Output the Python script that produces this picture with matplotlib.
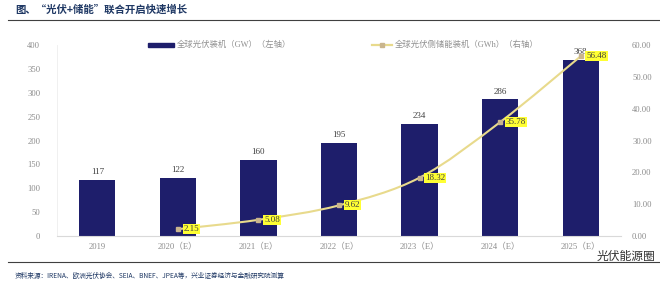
import matplotlib
matplotlib.use("Agg")
import matplotlib.pyplot as plt
import numpy as np
from matplotlib.path import Path
from matplotlib.patches import PathPatch

plt.rcParams['font.family'] = ['Liberation Serif', 'Noto Sans CJK SC', 'DejaVu Sans']

categories = ["2019", "2020（E）", "2021（E）", "2022（E）", "2023（E）", "2024（E）", "2025（E）"]
pv_gw = [117, 122, 160, 195, 234, 286, 368]
storage_idx = [1, 2, 3, 4, 5, 6]
storage_gwh = [2.15, 5.08, 9.62, 18.32, 35.78, 56.48]
left_ticks = [0, 50, 100, 150, 200, 250, 300, 350, 400]
right_ticks = [0, 10, 20, 30, 40, 50, 60]

bar_color = "#1e1e6b"
line_color = "#e8da8c"
tick_color = "#8c8c8c"

fig = plt.figure(figsize=(6.6, 2.86), dpi=100)
fig.patch.set_facecolor("white")

ax = fig.add_axes([57/660, 1-236/286, (621-57)/660, (236-45)/286])
x = np.arange(len(categories))
bars = ax.bar(x, pv_gw, width=0.45, color=bar_color, zorder=2)
ax.set_xlim(-0.5, len(categories)-0.5)
ax.set_ylim(0, 400)
ax.set_yticks(left_ticks)
ax.set_xticks(x)
ax.set_xticklabels(categories, fontsize=6.2, color=tick_color)
ax.tick_params(axis='y', labelsize=6.2, colors=tick_color, length=0, pad=12)
ax.tick_params(axis='x', length=0, pad=5)
for s in ['top', 'right']:
    ax.spines[s].set_visible(False)
ax.spines['left'].set_color("#eeeeee")
ax.spines['bottom'].set_color("#d9d9d9")
ax.spines['left'].set_linewidth(0.6)
ax.spines['bottom'].set_linewidth(0.8)
for xi, v in zip(x, pv_gw):
    ax.text(xi, v + 8, str(v), ha='center', va='bottom', fontsize=6.5, color="#404040")

ax2 = ax.twinx()
ax2.set_ylim(0, 60)
ax2.set_yticks(right_ticks)
ax2.set_yticklabels([f"{t:.2f}" for t in right_ticks])
ax2.tick_params(axis='y', labelsize=6.2, colors=tick_color, length=0, pad=8)
for s in ['top', 'right', 'left', 'bottom']:
    ax2.spines[s].set_visible(False)

# smooth line (Catmull-Rom as Bezier) through data points
px = np.array(storage_idx, dtype=float)
py = np.array(storage_gwh, dtype=float)
verts = [(px[0], py[0])]
codes = [Path.MOVETO]
n = len(px)
for i in range(n-1):
    p0 = (px[i-1], py[i-1]) if i > 0 else (px[i], py[i])
    p1 = (px[i], py[i])
    p2 = (px[i+1], py[i+1])
    p3 = (px[i+2], py[i+2]) if i+2 < n else (px[i+1], py[i+1])
    c1 = (p1[0] + (p2[0]-p0[0])/6, p1[1] + (p2[1]-p0[1])/6)
    c2 = (p2[0] - (p3[0]-p1[0])/6, p2[1] - (p3[1]-p1[1])/6)
    verts += [c1, c2, p2]
    codes += [Path.CURVE4]*3
ax2.add_patch(PathPatch(Path(verts, codes), facecolor='none', edgecolor=line_color, lw=1.5, zorder=3))
ax2.plot(px, py, linestyle='none', marker='s', markersize=3, color="#c9b58e", zorder=4)
for xi, v in zip(px, py):
    ax2.text(xi + 0.07, v, f"{v:.2f}", ha='left', va='center', fontsize=6.5, color="#404040",
             bbox=dict(boxstyle='square,pad=0.1', fc="#ffff33", ec='none'), zorder=5)

# legend
fig.patches.append(plt.Rectangle((148/660, 1-47/286), 26/660, 4/286, color=bar_color, transform=fig.transFigure, figure=fig))
fig.text(177/660, 1-45/286, "全球光伏装机（GW）（左轴）", fontsize=6, color="#909090", va='center', ha='left')
fig.lines.append(plt.Line2D([372/660, 392/660], [1-45/286, 1-45/286], color=line_color, lw=1.6, transform=fig.transFigure))
fig.lines.append(plt.Line2D([382/660], [1-45/286], marker='s', markersize=3, color="#c9b58e", transform=fig.transFigure))
fig.text(395/660, 1-45/286, "全球光伏侧储能装机（GWh）（右轴）", fontsize=6, color="#909090", va='center', ha='left')

# title and source
fig.text(15/660, 1-10/286, "图、“光伏+储能”联合开启快速增长", fontsize=7.5, fontweight='bold',
         color="#1f3864", va='center', ha='left', family=['Noto Sans CJK SC', 'DejaVu Sans'])
fig.lines.append(plt.Line2D([8/660, 1.0], [1-20/286, 1-20/286], color="#404040", lw=0.8, transform=fig.transFigure))
fig.lines.append(plt.Line2D([8/660, 1.0], [1-262/286, 1-262/286], color="#404040", lw=0.8, transform=fig.transFigure))
fig.text(15/660, 1-276/286, "资料来源：IRENA、欧洲光伏协会、SEIA、BNEF、JPEA等，兴业证券经济与金融研究院测算",
         fontsize=4.8, color="#1f3864", va='center', ha='left', family=['Noto Sans CJK SC', 'DejaVu Sans'])
fig.text(626/660, 1-256/286, "光伏能源圈", fontsize=8.5, color="#303030", va='center', ha='center',
         family=['Noto Sans CJK SC', 'DejaVu Sans'])

fig.savefig("out.png", dpi=100)
